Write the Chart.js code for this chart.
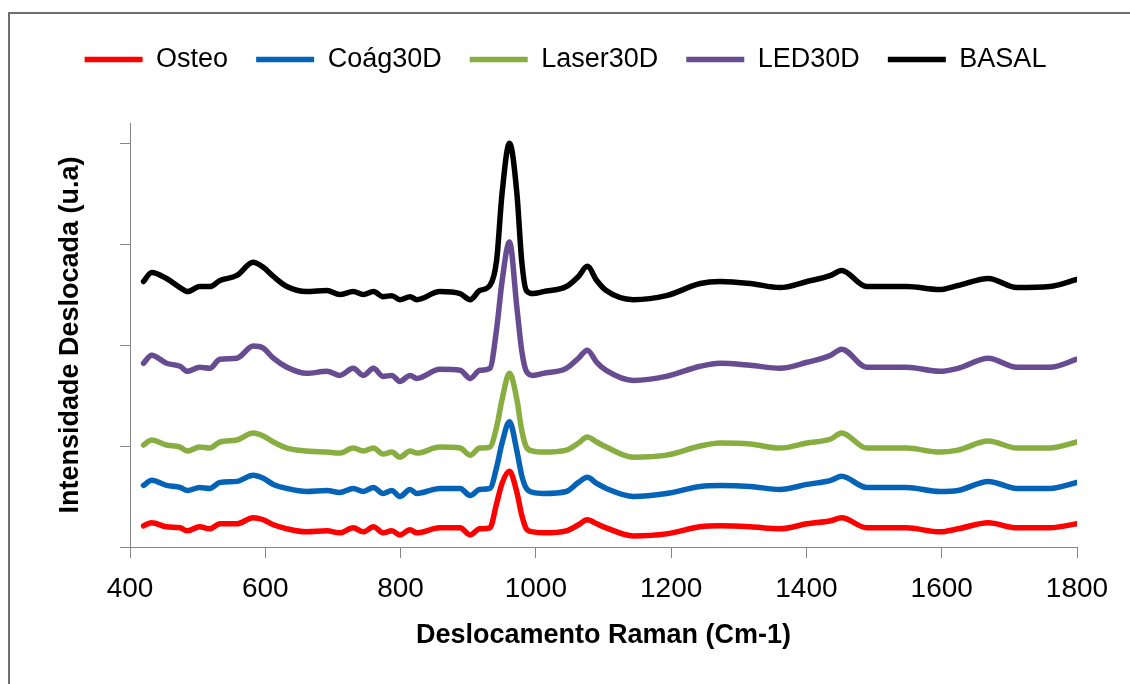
<!DOCTYPE html>
<html>
<head>
<meta charset="utf-8">
<script src="https://cdn.jsdelivr.net/npm/chart.js@4.4.1/dist/chart.umd.min.js"></script>
<style>
  html, body { margin: 0; padding: 0; background: #fff; }
  #wrap { width: 1130px; height: 684px; position: relative; }
</style>
</head>
<body>
<div id="wrap"><canvas id="ramanChart"></canvas></div>
<script>
// Raman shift (cm-1) sampled along the curves
const wavenumbers = [420, 432, 454, 474, 485, 503, 518, 533, 558, 582, 597, 612, 632, 661, 691, 710, 730, 745, 760, 774,
  787, 799, 814, 824, 858, 888, 903, 917, 932, 942, 950, 961, 972, 979, 986, 996, 1011, 1045, 1063, 1076,
  1090, 1104, 1144, 1193, 1243, 1272, 1317, 1361, 1401, 1436, 1452, 1489, 1548, 1597, 1624, 1669, 1711, 1760, 1800];

// intensities (u.a)
const osteo = [21, 24, 20, 19, 16, 20, 18, 23, 23, 29, 27, 22, 18, 15, 16, 14, 19, 15, 20, 14,
  16, 12, 17, 14, 19, 19, 12, 18, 19, 43, 63, 75, 54, 32, 18, 15, 14, 16, 22, 27,
  23, 19, 11, 13, 20, 21, 20, 18, 23, 26, 29, 19, 19, 15, 18, 24, 19, 19, 23];
const coag30d = [61, 66, 61, 59, 56, 59, 58, 64, 65, 71, 68, 62, 58, 55, 56, 54, 58, 55, 59, 53,
  56, 50, 57, 53, 58, 58, 51, 57, 58, 79, 103, 124, 95, 71, 58, 54, 53, 55, 64, 69,
  63, 58, 50, 53, 60, 61, 60, 57, 62, 66, 70, 59, 59, 55, 56, 65, 58, 58, 64];
const laser30d = [101, 106, 101, 99, 95, 99, 98, 104, 106, 113, 110, 104, 98, 95, 94, 93, 98, 95, 98, 92,
  94, 89, 95, 93, 99, 98, 91, 98, 99, 119, 146, 172, 146, 116, 99, 95, 94, 96, 103, 109,
  104, 99, 89, 91, 100, 103, 102, 98, 103, 107, 113, 98, 98, 94, 96, 105, 98, 98, 104];
const led30d = [182, 190, 182, 179, 174, 178, 177, 186, 187, 199, 197, 187, 178, 172, 174, 170, 177, 170, 177, 169,
  170, 164, 170, 167, 176, 175, 167, 175, 177, 216, 263, 302, 237, 195, 174, 170, 172, 177, 187, 195,
  183, 175, 165, 169, 179, 182, 180, 177, 183, 190, 196, 178, 178, 174, 177, 187, 178, 178, 186];
const basal = [263, 272, 266, 257, 253, 258, 258, 264, 269, 282, 277, 268, 258, 253, 254, 250, 253, 250, 253, 248,
  249, 245, 248, 245, 253, 251, 245, 254, 259, 284, 350, 400, 350, 284, 254, 251, 253, 258, 268, 278,
  264, 254, 245, 249, 261, 263, 261, 257, 263, 269, 274, 258, 258, 255, 259, 266, 257, 258, 265];

const seriesNames = ['Osteo', 'Coág30D', 'Laser30D', 'LED30D', 'BASAL'];
const seriesColors = ['#ff0000', '#0463b6', '#88ae41', '#684c91', '#000000'];
const seriesValues = [osteo, coag30d, laser30d, led30d, basal];

const FONT = "'Liberation Sans', Arial, sans-serif";
const AXIS_GRAY = '#868686';

// grey frame on the left and top edge of the picture
const framePlugin = {
  id: 'frame',
  beforeDraw(chart) {
    const ctx = chart.ctx;
    ctx.save();
    ctx.fillStyle = '#ffffff';
    ctx.fillRect(0, 0, chart.width, chart.height);
    ctx.strokeStyle = '#6e6e6e';
    ctx.lineWidth = 2;
    ctx.beginPath();
    ctx.moveTo(9, chart.height);
    ctx.lineTo(9, 13);
    ctx.lineTo(chart.width, 13);
    ctx.stroke();
    ctx.restore();
  }
};

const datasets = seriesNames.map((name, i) => ({
  label: name,
  data: wavenumbers.map((wn, j) => ({ x: wn, y: seriesValues[i][j] })),
  borderColor: seriesColors[i],
  backgroundColor: seriesColors[i],
  borderWidth: 5.5,
  borderCapStyle: 'round',
  borderJoinStyle: 'round',
  pointRadius: 0,
  cubicInterpolationMode: 'monotone',
  fill: false
}));

Chart.defaults.font.family = FONT;
Chart.defaults.color = '#000';

const ctx = document.getElementById('ramanChart').getContext('2d');
window.ramanChart = new Chart(ctx, {
  type: 'line',
  data: { datasets },
  plugins: [framePlugin],
  options: {
    responsive: true,
    maintainAspectRatio: false,
    animation: false,
    layout: { padding: { top: 18, left: 54, right: 53, bottom: 0 } },
    plugins: {
      legend: {
        display: true,
        position: 'top',
        labels: {
          usePointStyle: true,
          pointStyle: 'line',
          pointStyleWidth: 58,
          padding: 28,
          color: '#000',
          font: { size: 27, family: FONT }
        }
      },
      // empty title used as a spacer between legend and plot
      title: {
        display: true,
        text: '',
        weight: 500,
        font: { size: 10 },
        padding: { top: 0, bottom: 28 }
      },
      tooltip: { enabled: false }
    },
    scales: {
      x: {
        type: 'linear',
        min: 400,
        max: 1800,
        afterFit(scale) { scale.height = 137; },
        ticks: {
          stepSize: 200,
          maxRotation: 0,
          padding: 14,
          color: '#000',
          font: { size: 28, family: FONT },
          callback: (value) => String(value)
        },
        grid: { drawOnChartArea: false, drawTicks: true, tickLength: 11, color: AXIS_GRAY },
        border: { display: true, color: AXIS_GRAY, width: 1 },
        title: {
          display: true,
          text: 'Deslocamento Raman (Cm-1)',
          color: '#000',
          font: { size: 27, weight: 'bold', family: FONT },
          padding: { top: 0, bottom: 32 }
        }
      },
      y: {
        min: 0,
        max: 420,
        afterFit(scale) { scale.width = 76; },
        ticks: { display: false, stepSize: 100, includeBounds: false },
        grid: { drawOnChartArea: false, drawTicks: true, tickLength: 10, color: AXIS_GRAY },
        border: { display: true, color: AXIS_GRAY, width: 1 },
        title: {
          display: true,
          text: 'Intensidade Deslocada (u.a)',
          color: '#000',
          font: { size: 27, weight: 'bold', family: FONT },
          padding: { top: 0, bottom: 0 }
        }
      }
    }
  }
});
</script>
</body>
</html>
